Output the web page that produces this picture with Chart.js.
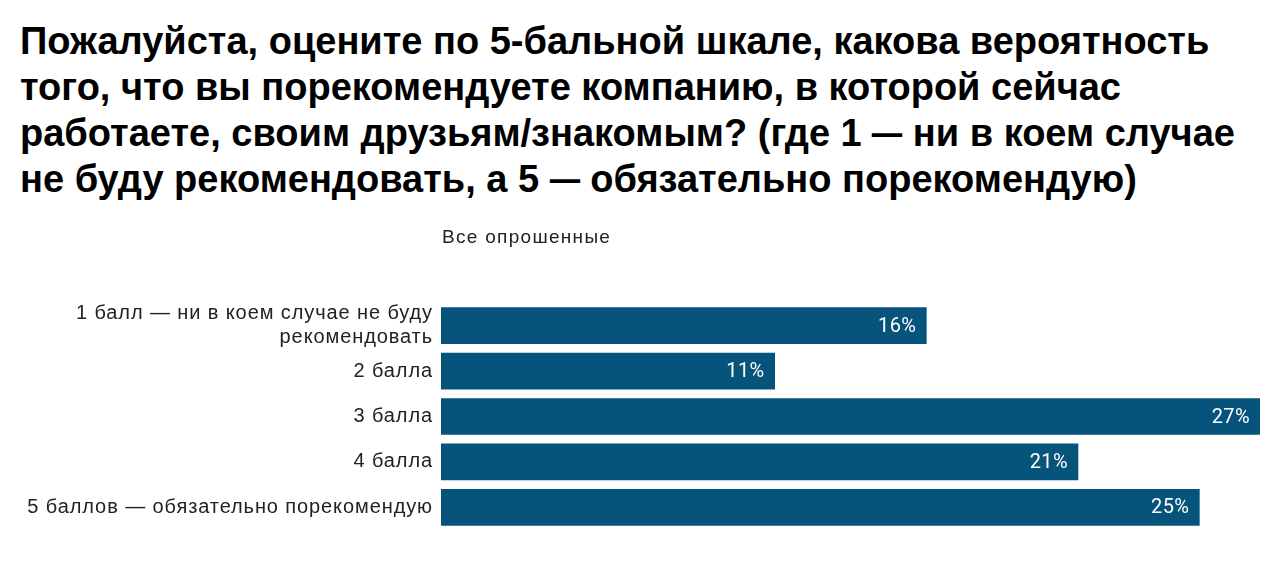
<!DOCTYPE html>
<html>
<head>
<meta charset="utf-8">
<script src="https://cdn.jsdelivr.net/npm/chart.js@4/dist/chart.umd.min.js"></script>
<style>
  html, body { margin: 0; padding: 0; background: #ffffff; }
  body { width: 1280px; height: 562px; position: relative; overflow: hidden; }
  #title {
    position: absolute; left: 20px; top: 18px; margin: 0;
    font-family: "Liberation Sans", Arial, sans-serif; font-weight: bold;
    font-size: 38px; line-height: 46px; letter-spacing: 0px; color: #000;
    white-space: nowrap;
  }
  #title .d { display: inline-block; transform: scaleX(0.8); margin: 0 -4px; }
  #wrap { position: absolute; left: 0; top: 0; width: 1280px; height: 562px; }
</style>
</head>
<body>
<h1 id="title">Пожалуйста, оцените по 5-бальной шкале, какова вероятность<br>того, что вы порекомендуете компанию, в которой сейчас<br>работаете, своим друзьям/знакомым? (где 1 <span class="d">—</span> ни в коем случае<br>не буду рекомендовать, а 5 <span class="d">—</span> обязательно порекомендую)</h1>
<div id="wrap"><canvas id="c"></canvas></div>
<script>
const categories = [
  ["1 балл — ни в коем случае не буду", "рекомендовать"],
  "2 балла",
  "3 балла",
  "4 балла",
  "5 баллов — обязательно порекомендую"
];
const values = [16, 11, 27, 21, 25];
const seriesName = "Все опрошенные";

const labelPlugin = {
  id: 'labelPlugin',
  beforeDraw(chart) {
    chart.ctx.letterSpacing = '0.9px';
  },
  afterDatasetsDraw(chart) {
    const ctx = chart.ctx;
    const meta = chart.getDatasetMeta(0);
    ctx.save();
    ctx.letterSpacing = '0.4px';
    ctx.font = '20px Roboto, "Liberation Sans", sans-serif';
    ctx.fillStyle = '#ffffff';
    ctx.textAlign = 'right';
    ctx.textBaseline = 'middle';
    meta.data.forEach((bar, i) => {
      ctx.fillText(values[i] + '%', bar.x - 10, bar.y + 1);
    });
    ctx.restore();
  },
  afterDraw(chart) {
    const ctx = chart.ctx;
    ctx.save();
    ctx.letterSpacing = '1.3px';
    ctx.font = '19px "Liberation Sans", Arial, sans-serif';
    ctx.fillStyle = '#222222';
    ctx.textAlign = 'left';
    ctx.textBaseline = 'alphabetic';
    ctx.fillText(seriesName, chart.chartArea.left + 1, 243);
    ctx.restore();
    ctx.letterSpacing = '0px';
  }
};

new Chart(document.getElementById('c'), {
  type: 'bar',
  data: {
    labels: categories,
    datasets: [{
      label: seriesName,
      data: values,
      backgroundColor: '#06547b',
      borderWidth: 0,
      barThickness: 36
    }]
  },
  options: {
    indexAxis: 'y',
    responsive: true,
    maintainAspectRatio: false,
    animation: false,
    layout: { padding: { top: 303, bottom: 26, right: 20, left: 0 } },
    plugins: {
      legend: { display: false },
      tooltip: { enabled: false }
    },
    scales: {
      x: { display: false, min: 0, max: 27 },
      y: {
        grid: { display: false, drawTicks: false },
        border: { display: false },
        ticks: {
          autoSkip: false,
          color: '#222222',
          padding: 8,
          font: { family: '"Liberation Sans", Arial, sans-serif', size: 20, lineHeight: 1.2 }
        },
        afterFit(scale) { scale.width = 441; }
      }
    }
  },
  plugins: [labelPlugin]
});
</script>
</body>
</html>
